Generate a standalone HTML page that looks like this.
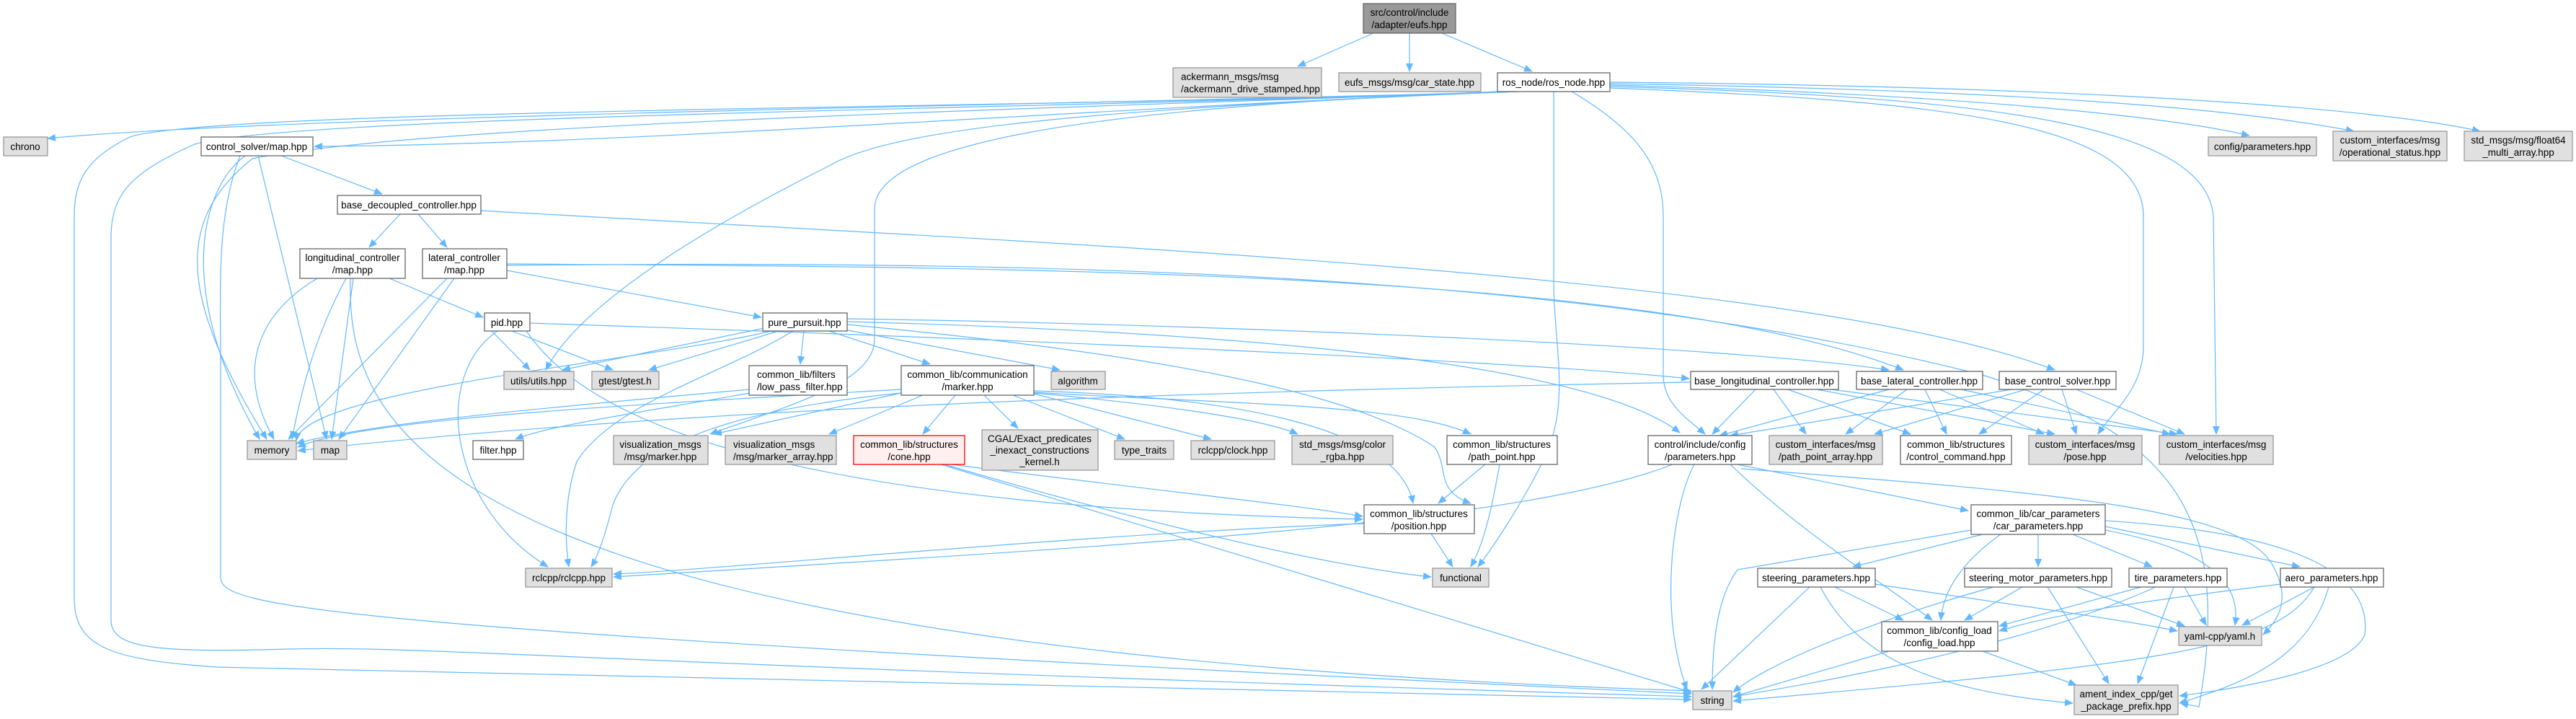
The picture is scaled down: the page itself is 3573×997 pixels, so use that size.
<!DOCTYPE html>
<html><head><meta charset="utf-8"><style>
html,body{margin:0;padding:0;background:#fff;}
svg{display:block;}
text{font-family:"Liberation Sans",Arial,sans-serif;font-size:13.5px;fill:#000;}
.e{fill:none;stroke:#63b8ff;stroke-width:1.2;marker-end:url(#a);}
.w{fill:#fff;stroke:#666;stroke-width:1.3;}
.g{fill:#e0e0e0;stroke:#999;stroke-width:1.3;}
.r{fill:#999;stroke:#666;stroke-width:1.3;}
.c{fill:#fff0f0;stroke:#ff0000;stroke-width:1.3;}
</style></head><body>
<svg width="3573" height="997" viewBox="0 0 3573 997" xmlns="http://www.w3.org/2000/svg">
<defs><marker id="a" markerUnits="userSpaceOnUse" markerWidth="12" markerHeight="10" refX="11" refY="5" orient="auto"><path d="M0,0 L12,5 L0,10 z" fill="#63b8ff"/></marker></defs>
<g>
<!-- root -->
<path class="e" d="M1905 46 L1800 92"/>
<path class="e" d="M1955 46 L1955 99"/>
<path class="e" d="M2000 46 L2125 99"/>
<!-- ros_node -->
<path class="e" d="M2105 127 C1500 145 400 160 66 192"/>
<path class="e" d="M2105 127 C1500 150 900 200 436 203"/>
<path class="e" d="M2100 127 C1500 150 300 150 180 190 C120 220 103 250 103 300 L103 830 C103 900 160 915 300 925 L2346 970"/>
<path class="e" d="M2100 127 C1500 150 400 160 270 200 C180 240 154 270 154 330 L154 860 C154 900 220 905 400 900 C600 895 800 920 2346 966"/>
<path class="e" d="M2080 127 C1600 150 1250 170 1150 230 C950 330 800 430 757 513"/>
<path class="e" d="M2155 127 L2155 390 C2155 480 2180 560 2140 640 C2110 700 2070 760 2050 786"/>
<path class="e" d="M2180 127 C2270 180 2307 230 2307 300 L2307 520 C2307 560 2340 580 2365 602"/>
<path class="e" d="M2080 127 C1500 150 1213 200 1213 290 L1213 470 C1213 530 1100 560 985 602"/>
<path class="e" d="M2233 118 C2700 130 3000 160 3120 188"/>
<path class="e" d="M2233 116 C2800 125 3100 150 3265 182"/>
<path class="e" d="M2233 114 C2900 120 3300 150 3440 182"/>
<path class="e" d="M2233 122 C2700 140 2973 170 2973 300 L2973 480 C2973 540 2930 570 2910 602"/>
<path class="e" d="M2233 120 C2800 135 3060 180 3070 300 L3074 602"/>
<path class="e" d="M2090 127 C1500 150 600 170 350 220 C250 300 240 400 370 609"/>
<!-- control_solver -->
<path class="e" d="M390 216 L530 269"/>
<path class="e" d="M340 216 C280 260 240 400 360 609"/>
<path class="e" d="M358 216 L453 609"/>
<path class="e" d="M333 216 C300 300 306 400 306 500 L306 800 C306 840 400 870 2346 962"/>
<!-- base_decoupled -->
<path class="e" d="M555 297 L512 343"/>
<path class="e" d="M580 297 L620 343"/>
<path class="e" d="M667 292 C1500 340 2500 380 2850 513"/>
<!-- long/map -->
<path class="e" d="M540 386 L670 440"/>
<path class="e" d="M440 386 C350 440 330 520 380 609"/>
<path class="e" d="M480 386 C440 460 420 530 405 609"/>
<path class="e" d="M490 386 L460 609"/>
<path class="e" d="M486 386 C480 600 600 900 2346 958"/>
<!-- lat/map -->
<path class="e" d="M703 375 L1056 440"/>
<path class="e" d="M620 386 L400 609"/>
<path class="e" d="M630 386 L470 609"/>
<path class="e" d="M703 366 C1500 370 2300 380 2640 513"/>
<path class="e" d="M703 368 C1500 360 2200 380 2750 520 C3000 600 3100 700 3050 980 L3024 975"/>
<!-- pid -->
<path class="e" d="M682 459 L735 513"/>
<path class="e" d="M710 459 L850 513"/>
<path class="e" d="M690 459 C600 520 620 700 760 786"/>
<path class="e" d="M730 459 C800 560 1000 700 1890 720"/>
<path class="e" d="M735 448 C1400 470 2100 500 2343 525"/>
<!-- pure_pursuit -->
<path class="e" d="M1060 455 L780 513"/>
<path class="e" d="M1080 459 L900 513"/>
<path class="e" d="M1115 459 L1110 505"/>
<path class="e" d="M1150 459 L1290 505"/>
<path class="e" d="M1160 455 L1470 513"/>
<path class="e" d="M1175 446 C1700 460 2200 500 2330 600"/>
<path class="e" d="M1175 442 C1700 450 2400 480 2620 513"/>
<path class="e" d="M1100 459 C1000 520 850 560 800 640 C780 700 785 760 789 786"/>
<path class="e" d="M1175 450 C1700 500 1900 560 1990 620 C2010 650 1990 680 2040 698"/>
<path class="e" d="M1070 459 C900 500 420 540 411 611"/>
<!-- low_pass -->
<path class="e" d="M1040 545 C900 570 760 590 715 609"/>
<path class="e" d="M1040 540 C700 570 500 590 411 615"/>
<!-- comm marker -->
<path class="e" d="M1325 548 L1280 602"/>
<path class="e" d="M1365 548 L1412 594"/>
<path class="e" d="M1405 548 L1560 609"/>
<path class="e" d="M1434 546 L1680 609"/>
<path class="e" d="M1434 545 C1600 560 1750 580 1800 602"/>
<path class="e" d="M1250 545 L990 602"/>
<path class="e" d="M1280 548 L1150 602"/>
<path class="e" d="M1434 544 C1700 560 1950 560 2040 602"/>
<path class="e" d="M1434 542 C1700 550 1940 590 1960 698"/>
<path class="e" d="M1250 540 C900 560 500 580 413 620"/>
<path class="e" d="M1250 545 C1000 570 880 620 850 700 C840 740 830 770 820 786"/>
<!-- cone -->
<path class="e" d="M1320 644 C1600 680 1800 700 1890 716"/>
<path class="e" d="M1305 644 L2346 960"/>
<path class="e" d="M1310 644 C1500 700 1800 780 1985 800"/>
<!-- path_point -->
<path class="e" d="M2060 644 L1995 698"/>
<path class="e" d="M2080 644 C2070 700 2060 750 2040 786"/>
<!-- position -->
<path class="e" d="M1985 740 L2015 786"/>
<path class="e" d="M1892 726 C1500 740 1000 790 851 796"/>
<!-- base_long -->
<path class="e" d="M2435 540 L2375 602"/>
<path class="e" d="M2460 540 L2505 602"/>
<path class="e" d="M2480 540 L2650 602"/>
<path class="e" d="M2520 540 L2850 602"/>
<path class="e" d="M2540 540 L3020 602"/>
<path class="e" d="M2345 530 C1800 540 1000 560 413 625"/>
<!-- base_lat -->
<path class="e" d="M2620 540 L2385 604"/>
<path class="e" d="M2645 540 L2560 602"/>
<path class="e" d="M2670 540 L2700 602"/>
<path class="e" d="M2690 540 L2835 602"/>
<path class="e" d="M2720 540 L3010 602"/>
<!-- base_cs -->
<path class="e" d="M2790 540 L2400 604"/>
<path class="e" d="M2810 540 L2600 602"/>
<path class="e" d="M2835 540 L2745 602"/>
<path class="e" d="M2860 540 L2880 602"/>
<path class="e" d="M2880 540 L3030 602"/>
<!-- config params -->
<path class="e" d="M2410 644 L2730 708"/>
<path class="e" d="M2350 644 C2320 700 2300 850 2340 956"/>
<path class="e" d="M2400 644 C2500 740 2600 800 2680 860"/>
<path class="e" d="M2320 644 C2100 730 1500 760 851 800"/>
<path class="e" d="M2415 650 C2800 680 3100 700 3150 780 C3180 830 3160 860 3139 880"/>
<!-- car params -->
<path class="e" d="M2750 741 L2570 786"/>
<path class="e" d="M2827 741 L2827 786"/>
<path class="e" d="M2875 741 L2985 786"/>
<path class="e" d="M2920 730 L3190 786"/>
<path class="e" d="M2775 741 C2720 780 2695 820 2692 860"/>
<path class="e" d="M2734 735 L2410 790 C2380 830 2375 900 2375 956"/>
<path class="e" d="M2920 735 C3050 760 3110 800 3100 867"/>
<path class="e" d="M2920 722 C3200 740 3290 800 3280 880 C3260 930 3100 955 3023 965"/>
<!-- steering -->
<path class="e" d="M2545 814 L2640 860"/>
<path class="e" d="M2510 814 L2360 956"/>
<path class="e" d="M2525 814 C2580 920 2700 960 2875 975"/>
<path class="e" d="M2601 810 C2800 840 2950 860 3020 875"/>
<!-- steer motor -->
<path class="e" d="M2805 814 L2725 860"/>
<path class="e" d="M2765 814 C2600 860 2450 920 2404 960"/>
<path class="e" d="M2840 814 L2925 948"/>
<path class="e" d="M2880 814 L3030 868"/>
<!-- tire -->
<path class="e" d="M2970 814 L2773 868"/>
<path class="e" d="M2990 814 C2800 900 2500 950 2404 966"/>
<path class="e" d="M3015 814 L2965 948"/>
<path class="e" d="M3030 814 L3060 867"/>
<!-- aero -->
<path class="e" d="M3163 810 C3000 830 2850 850 2773 875"/>
<path class="e" d="M3210 814 C3160 900 3000 920 2404 972"/>
<path class="e" d="M3230 814 C3200 920 3100 950 3023 975"/>
<path class="e" d="M3210 814 L3110 867"/>
<!-- config_load -->
<path class="e" d="M2620 903 L2404 966"/>
<path class="e" d="M2750 903 L2880 950"/>
</g>
<g>
<rect class="r" x="1891" y="5" width="128" height="41"/><text x="1955" y="22" text-anchor="middle">src/control/include</text><text x="1955" y="39" text-anchor="middle">/adapter/eufs.hpp</text>
<rect class="g" x="1627" y="94" width="206" height="41"/><text x="1638" y="111">ackermann_msgs/msg</text><text x="1638" y="128">/ackermann_drive_stamped.hpp</text>
<rect class="g" x="1857" y="101" width="197" height="26"/><text x="1955" y="119" text-anchor="middle">eufs_msgs/msg/car_state.hpp</text>
<rect class="w" x="2077" y="101" width="156" height="26"/><text x="2155" y="119" text-anchor="middle">ros_node/ros_node.hpp</text>
<rect class="g" x="5" y="190" width="61" height="26"/><text x="35" y="208" text-anchor="middle">chrono</text>
<rect class="w" x="279" y="190" width="155" height="26"/><text x="356" y="208" text-anchor="middle">control_solver/map.hpp</text>
<rect class="g" x="3063" y="190" width="150" height="26"/><text x="3138" y="208" text-anchor="middle">config/parameters.hpp</text>
<rect class="g" x="3236" y="182" width="158" height="41"/><text x="3315" y="199" text-anchor="middle">custom_interfaces/msg</text><text x="3315" y="216" text-anchor="middle">/operational_status.hpp</text>
<rect class="g" x="3418" y="182" width="150" height="41"/><text x="3493" y="199" text-anchor="middle">std_msgs/msg/float64</text><text x="3493" y="216" text-anchor="middle">_multi_array.hpp</text>
<rect class="w" x="468" y="271" width="199" height="26"/><text x="567" y="289" text-anchor="middle">base_decoupled_controller.hpp</text>
<rect class="w" x="416" y="345" width="146" height="41"/><text x="489" y="362" text-anchor="middle">longitudinal_controller</text><text x="489" y="379" text-anchor="middle">/map.hpp</text>
<rect class="w" x="586" y="345" width="117" height="41"/><text x="644" y="362" text-anchor="middle">lateral_controller</text><text x="644" y="379" text-anchor="middle">/map.hpp</text>
<rect class="w" x="672" y="434" width="63" height="25"/><text x="703" y="452" text-anchor="middle">pid.hpp</text>
<rect class="w" x="1058" y="434" width="117" height="25"/><text x="1116" y="452" text-anchor="middle">pure_pursuit.hpp</text>
<rect class="w" x="1039" y="507" width="136" height="41"/><text x="1050" y="524">common_lib/filters</text><text x="1050" y="541">/low_pass_filter.hpp</text>
<rect class="w" x="1250" y="507" width="184" height="41"/><text x="1342" y="524" text-anchor="middle">common_lib/communication</text><text x="1342" y="541" text-anchor="middle">/marker.hpp</text>
<rect class="g" x="699" y="515" width="97" height="25"/><text x="747" y="533" text-anchor="middle">utils/utils.hpp</text>
<rect class="g" x="821" y="515" width="93" height="25"/><text x="867" y="533" text-anchor="middle">gtest/gtest.h</text>
<rect class="g" x="1458" y="515" width="75" height="25"/><text x="1495" y="533" text-anchor="middle">algorithm</text>
<rect class="w" x="2345" y="515" width="205" height="25"/><text x="2447" y="533" text-anchor="middle">base_longitudinal_controller.hpp</text>
<rect class="w" x="2575" y="515" width="175" height="25"/><text x="2662" y="533" text-anchor="middle">base_lateral_controller.hpp</text>
<rect class="w" x="2773" y="515" width="162" height="25"/><text x="2854" y="533" text-anchor="middle">base_control_solver.hpp</text>
<rect class="g" x="343" y="611" width="68" height="26"/><text x="377" y="629" text-anchor="middle">memory</text>
<rect class="g" x="435" y="611" width="46" height="26"/><text x="458" y="629" text-anchor="middle">map</text>
<rect class="w" x="656" y="611" width="70" height="26"/><text x="691" y="629" text-anchor="middle">filter.hpp</text>
<rect class="g" x="851" y="604" width="131" height="40"/><text x="916" y="621" text-anchor="middle">visualization_msgs</text><text x="916" y="638" text-anchor="middle">/msg/marker.hpp</text>
<rect class="g" x="1006" y="604" width="154" height="40"/><text x="1017" y="621">visualization_msgs</text><text x="1017" y="638">/msg/marker_array.hpp</text>
<rect class="c" x="1184" y="604" width="154" height="40"/><text x="1261" y="621" text-anchor="middle">common_lib/structures</text><text x="1261" y="638" text-anchor="middle">/cone.hpp</text>
<rect class="g" x="1362" y="596" width="161" height="56"/><text x="1442" y="613" text-anchor="middle">CGAL/Exact_predicates</text><text x="1442" y="629" text-anchor="middle">_inexact_constructions</text><text x="1442" y="645" text-anchor="middle">_kernel.h</text>
<rect class="g" x="1546" y="611" width="82" height="26"/><text x="1587" y="629" text-anchor="middle">type_traits</text>
<rect class="g" x="1652" y="611" width="116" height="26"/><text x="1710" y="629" text-anchor="middle">rclcpp/clock.hpp</text>
<rect class="g" x="1792" y="604" width="140" height="40"/><text x="1862" y="621" text-anchor="middle">std_msgs/msg/color</text><text x="1862" y="638" text-anchor="middle">_rgba.hpp</text>
<rect class="w" x="2007" y="604" width="153" height="40"/><text x="2083" y="621" text-anchor="middle">common_lib/structures</text><text x="2083" y="638" text-anchor="middle">/path_point.hpp</text>
<rect class="w" x="2286" y="604" width="144" height="40"/><text x="2358" y="621" text-anchor="middle">control/include/config</text><text x="2358" y="638" text-anchor="middle">/parameters.hpp</text>
<rect class="g" x="2454" y="604" width="157" height="40"/><text x="2532" y="621" text-anchor="middle">custom_interfaces/msg</text><text x="2532" y="638" text-anchor="middle">/path_point_array.hpp</text>
<rect class="w" x="2636" y="604" width="154" height="40"/><text x="2713" y="621" text-anchor="middle">common_lib/structures</text><text x="2713" y="638" text-anchor="middle">/control_command.hpp</text>
<rect class="g" x="2814" y="604" width="157" height="40"/><text x="2892" y="621" text-anchor="middle">custom_interfaces/msg</text><text x="2892" y="638" text-anchor="middle">/pose.hpp</text>
<rect class="g" x="2995" y="604" width="158" height="40"/><text x="3074" y="621" text-anchor="middle">custom_interfaces/msg</text><text x="3074" y="638" text-anchor="middle">/velocities.hpp</text>
<rect class="w" x="1892" y="700" width="153" height="40"/><text x="1968" y="717" text-anchor="middle">common_lib/structures</text><text x="1968" y="734" text-anchor="middle">/position.hpp</text>
<rect class="w" x="2734" y="700" width="186" height="41"/><text x="2827" y="717" text-anchor="middle">common_lib/car_parameters</text><text x="2827" y="734" text-anchor="middle">/car_parameters.hpp</text>
<rect class="g" x="729" y="788" width="120" height="26"/><text x="789" y="806" text-anchor="middle">rclcpp/rclcpp.hpp</text>
<rect class="g" x="1987" y="788" width="78" height="26"/><text x="2026" y="806" text-anchor="middle">functional</text>
<rect class="w" x="2438" y="788" width="163" height="26"/><text x="2519" y="806" text-anchor="middle">steering_parameters.hpp</text>
<rect class="w" x="2725" y="788" width="204" height="26"/><text x="2827" y="806" text-anchor="middle">steering_motor_parameters.hpp</text>
<rect class="w" x="2953" y="788" width="136" height="26"/><text x="3021" y="806" text-anchor="middle">tire_parameters.hpp</text>
<rect class="w" x="3163" y="788" width="143" height="26"/><text x="3234" y="806" text-anchor="middle">aero_parameters.hpp</text>
<rect class="w" x="2610" y="862" width="161" height="41"/><text x="2690" y="879" text-anchor="middle">common_lib/config_load</text><text x="2690" y="896" text-anchor="middle">/config_load.hpp</text>
<rect class="g" x="3022" y="869" width="115" height="26"/><text x="3079" y="887" text-anchor="middle">yaml-cpp/yaml.h</text>
<rect class="g" x="2348" y="958" width="54" height="26"/><text x="2375" y="976" text-anchor="middle">string</text>
<rect class="g" x="2877" y="950" width="144" height="41"/><text x="2949" y="967" text-anchor="middle">ament_index_cpp/get</text><text x="2949" y="984" text-anchor="middle">_package_prefix.hpp</text>
</g>
</svg>
</body></html>
